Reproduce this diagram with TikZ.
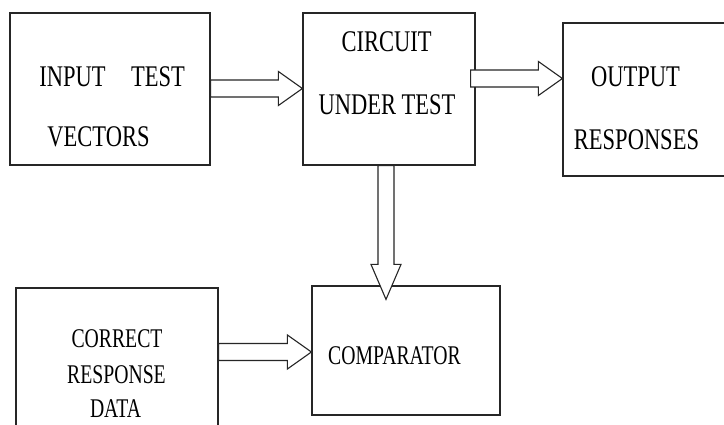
\documentclass[tikz,border=0pt]{standalone}
\usepackage{fontspec}
\setmainfont{Liberation Serif}
\newfontfamily\widefont[FakeStretch=0.75]{Liberation Serif}
\newfontfamily\narrowfont[FakeStretch=0.73]{Liberation Serif}
\usetikzlibrary{calc}
\tikzset{
  blk/.style={draw=black!85,line width=1.2pt,rectangle,inner sep=0pt},
  lbltop/.style={anchor=base,inner sep=0pt,font=\widefont\fontsize{30}{30}\selectfont,text=black},
  lblbot/.style={anchor=base,inner sep=0pt,font=\narrowfont\fontsize{27}{27}\selectfont,text=black},
  harrow/.style={draw=black!85,fill=white,line width=1.1pt,
    to path={let \p1=(\tikztostart), \p2=(\tikztotarget) in
      (\x1,\y1+8.5pt) -- (\x2-24pt,\y1+8.5pt) -- (\x2-24pt,\y1+17pt) -- (\x2,\y1)
      -- (\x2-24pt,\y1-17pt) -- (\x2-24pt,\y1-8.5pt) -- (\x1,\y1-8.5pt) -- cycle}},
  varrow/.style={draw=black!85,fill=white,line width=1.1pt,
    to path={let \p1=(\tikztostart), \p2=(\tikztotarget) in
      (\x1-8pt,\y1) -- (\x1-8pt,\y2+35pt) -- (\x1-15pt,\y2+35pt) -- (\x1,\y2)
      -- (\x1+15pt,\y2+35pt) -- (\x1+8pt,\y2+35pt) -- (\x1+8pt,\y1) -- cycle}}
}
\begin{document}
\begin{tikzpicture}[x=1pt,y=-1pt]
  \useasboundingbox[fill=white] (0,0) rectangle (724,425);
  % boxes
  \node[blk,minimum width=200pt,minimum height=152pt] (inp) at (110,89) {};
  \node[blk,minimum width=172pt,minimum height=152pt] (cut) at (389,89) {};
  \node[blk,minimum width=200pt,minimum height=153pt] (out) at (663,99.5) {};
  \node[blk,minimum width=188pt,minimum height=129pt] (cmp) at (406,350.5) {};
  \node[blk,minimum width=202pt,minimum height=182pt] (crt) at (117,379) {};
  % texts
  \node[lbltop] (inp1) at (72.5,87) {INPUT};
  \node[lbltop] (inp2) at (158,87) {TEST};
  \node[lbltop] (inp3) at (98.5,147) {VECTORS};
  \node[lbltop] (cut1) at (386.5,52) {CIRCUIT};
  \node[lbltop] (cut2) at (387,115) {UNDER TEST};
  \node[lbltop] (out1) at (635.5,87) {OUTPUT};
  \node[lbltop] (out2) at (636.5,150) {RESPONSES};
  \node[lblbot] (cmp1) at (394.5,364) {COMPARATOR};
  \node[lblbot] (crt1) at (117,347) {CORRECT};
  \node[lblbot] (crt2) at (116.5,383) {RESPONSE};
  \node[lblbot] (crt3) at (115.5,417) {DATA};
  % connectors
  \coordinate (a2s) at ($(cut.east)+(-5,-10.5)$);
  \coordinate (a2t) at (out.west |- a2s);
  \coordinate (a3s) at ($(cut.south)+(-3,0)$);
  \coordinate (a3t) at ($(cmp.north west)+(74,14)$);
  \coordinate (a4s) at (crt.east |- 0,352);
  \coordinate (a4t) at (cmp.west |- a4s);
  \draw[harrow] ($(inp.east)+(0,-0.5)$) to ($(cut.west)+(0,-0.5)$);
  \draw[harrow] (a2s) to (a2t);
  \draw[varrow] (a3s) to (a3t);
  \draw[harrow] (a4s) to (a4t);
\end{tikzpicture}
\end{document}
